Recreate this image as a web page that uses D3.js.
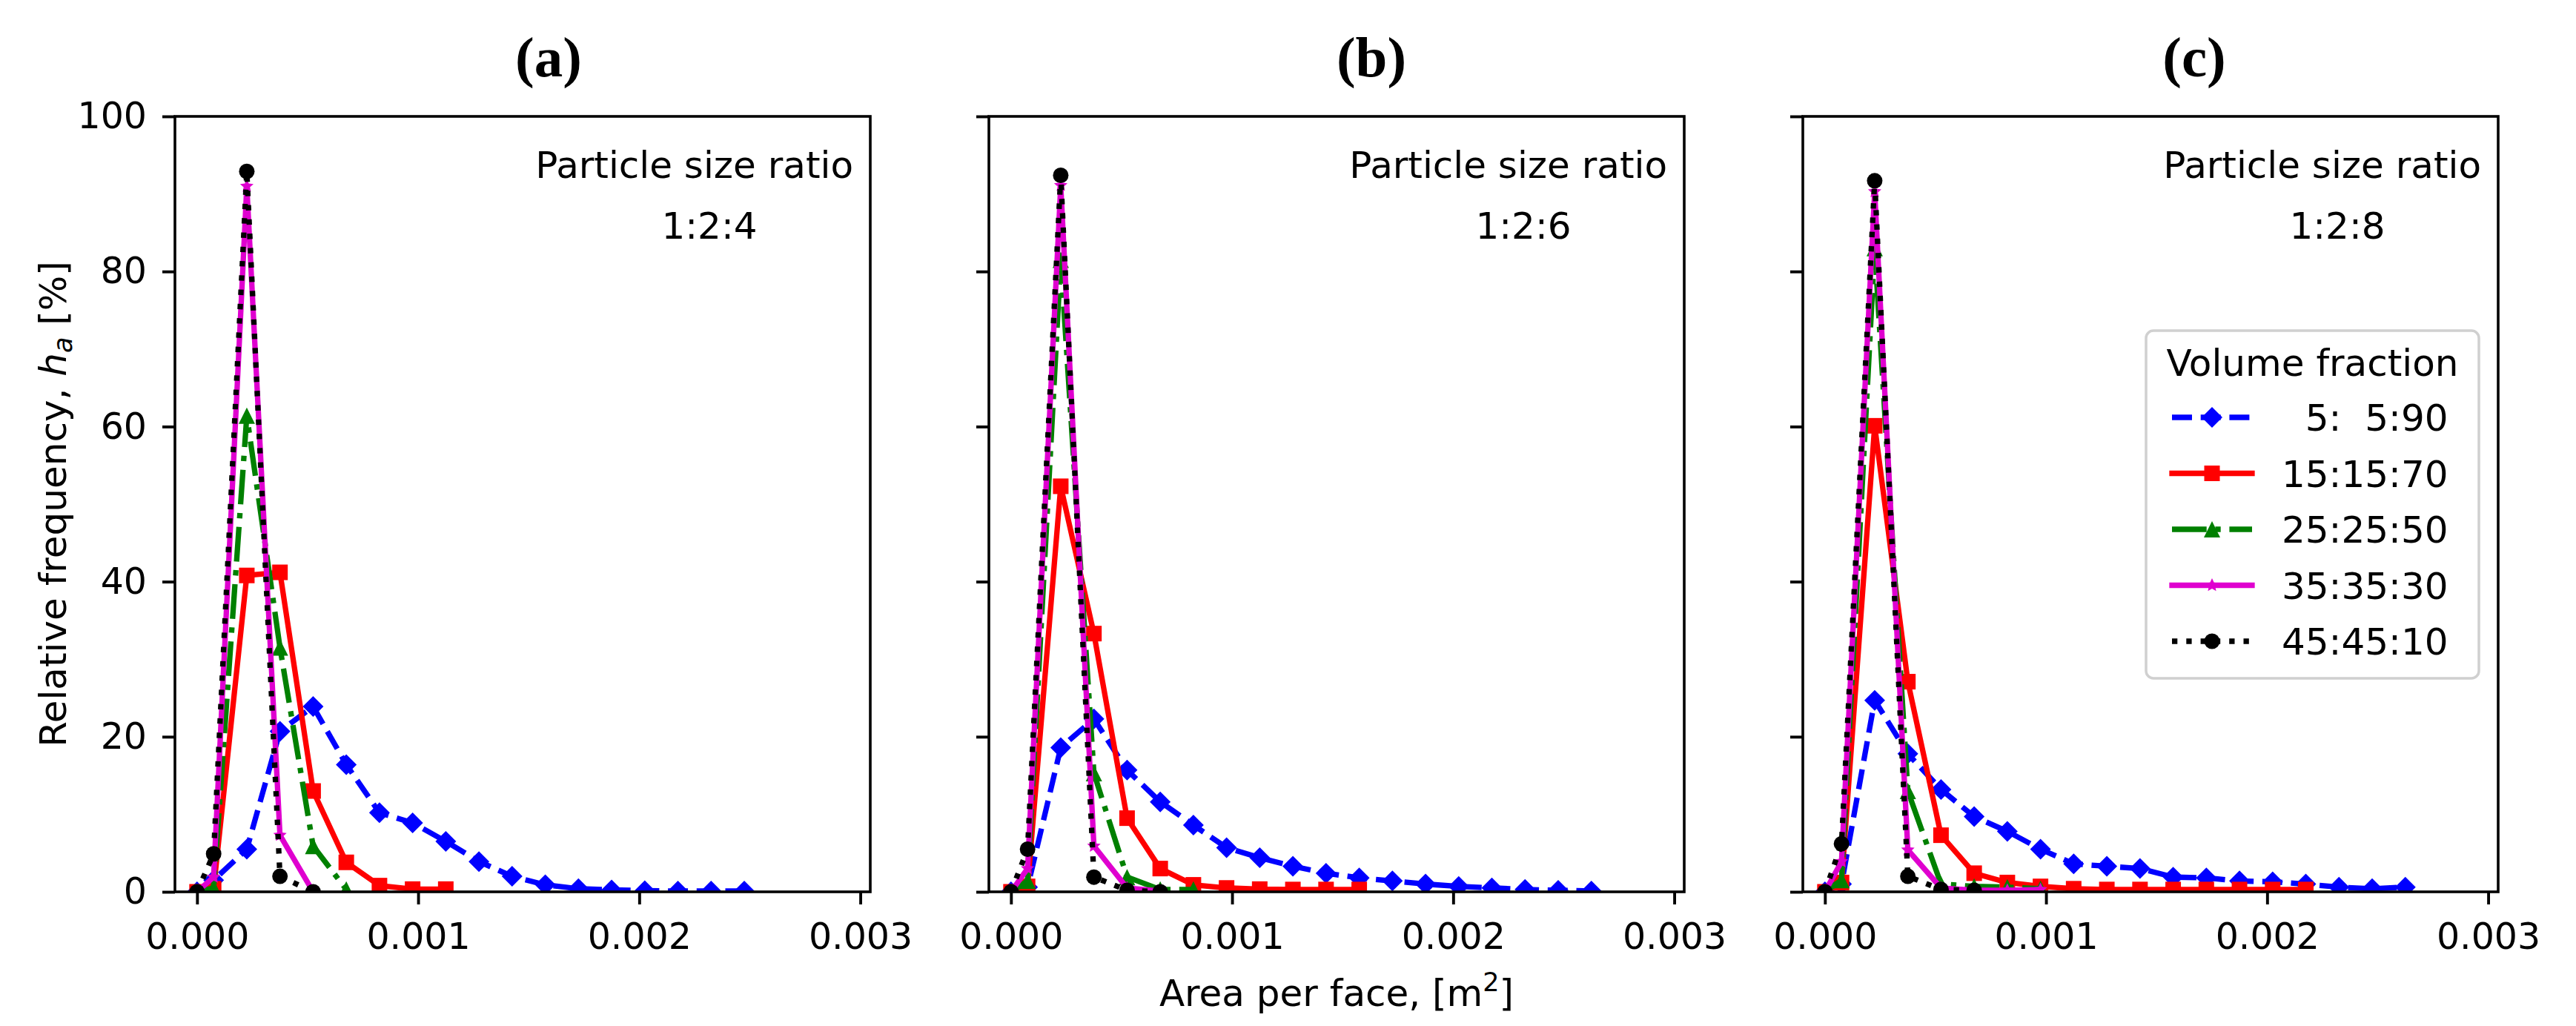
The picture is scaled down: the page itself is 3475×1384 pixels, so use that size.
<!DOCTYPE html>
<html>
<head>
<meta charset="utf-8">
<style>
  body { margin: 0; background: #fff; }
  text { font-family: "DejaVu Sans", sans-serif; }
</style>
</head>
<body>
<script src="https://d3js.org/d3.v7.min.js"></script>
<script>

// ---- data ----
var xBins = [0, 0.000075, 0.000225, 0.000375, 0.000525, 0.000675, 0.000825, 0.000975,
             0.001125, 0.001275, 0.001425, 0.001575, 0.001725, 0.001875, 0.002025,
             0.002175, 0.002325, 0.002475, 0.002625];

var seriesNames = ['  5:  5:90', '15:15:70', '25:25:50', '35:35:30', '45:45:10'];
var panelTitles = ['(a)', '(b)', '(c)'];
var sizeRatios = ['1:2:4', '1:2:6', '1:2:8'];
var xTicks = [0, 0.001, 0.002, 0.003];
var yTicks = [0, 20, 40, 60, 80, 100];

// panel (a) 1:2:4
var blueA    = [0, 1.5, 5.5, 20.7, 23.9, 16.4, 10.2, 8.9, 6.5, 3.9, 2.0, 0.9, 0.4, 0.25, 0.15, 0.1, 0.1, 0.1];
var redA     = [0, 0.4, 40.8, 41.2, 13.0, 3.8, 0.8, 0.35, 0.35];
var greenA   = [0, 0.5, 61.4, 31.5, 5.9, 0.3];
var magentaA = [0, 1.9, 91.0, 7.3, 0];
var blackA   = [0, 4.9, 92.9, 2.0, 0];

// panel (b) 1:2:6
var blueB    = [0, 0.6, 18.6, 22.3, 15.7, 11.6, 8.6, 5.7, 4.4, 3.3, 2.4, 1.8, 1.4, 1.0, 0.7, 0.5, 0.3, 0.2, 0.1];
var redB     = [0, 0.7, 52.3, 33.3, 9.5, 3.0, 0.9, 0.5, 0.35, 0.3, 0.3, 0.3];
var greenB   = [0, 1.4, 81.5, 15.3, 1.9, 0.3, 0.3];
var magentaB = [0, 3.0, 91.1, 5.9, 0.5, 0.1];
var blackB   = [0, 5.5, 92.4, 1.9, 0.2, 0];

// panel (c) 1:2:8
var blueC    = [0, 1.0, 24.7, 17.8, 13.2, 9.7, 7.8, 5.5, 3.6, 3.3, 3.0, 1.9, 1.8, 1.4, 1.3, 1.0, 0.6, 0.4, 0.6];
var redC     = [0, 1.2, 60.1, 27.1, 7.3, 2.4, 1.2, 0.7, 0.4, 0.3, 0.3, 0.3, 0.3, 0.3, 0.3, 0.3];
var greenC   = [0, 1.5, 83.0, 13.0, 1.0, 0.7, 0.6, 0.4];
var magentaC = [0, 3.9, 90.3, 5.4, 0.5, 0.2, 0.2, 0.3];
var blackC   = [0, 6.2, 91.7, 2.0, 0.3, 0.2];

var panels = [
  [blueA, redA, greenA, magentaA, blackA],
  [blueB, redB, greenB, magentaB, blackB],
  [blueC, redC, greenC, magentaC, blackC]
];

// ---- styles / layout ----
var lw = 7.3;
var colors = ['#0000ff', '#ff0000', '#008000', '#df00cf', '#000000'];
var dashes = [[27, 11.7], null, [46.7, 11.7, 7.3, 11.7], null, [7.3, 12]];
var markers = ['diamond', 'square', 'triangle', 'star', 'circle'];

var W = 3475, H = 1384;
var panelLeft = [236, 1334, 2432];
var panelW = 938, plotTop = 157, plotH = 1203 - 157;
var titleX = [740, 1850, 2960];

function markerPath(kind) {
  if (kind === 'diamond') return 'M0,-14L14,0L0,14L-14,0Z';
  if (kind === 'square') return 'M-10.5,-10.5h21v21h-21Z';
  if (kind === 'triangle') return 'M0,-11L11,11L-11,11Z';
  if (kind === 'circle') return 'M10.5,0A10.5,10.5 0 1,1 -10.5,0A10.5,10.5 0 1,1 10.5,0Z';
  // small star
  var pts = [];
  for (var i = 0; i < 10; i++) {
    var r = i % 2 === 0 ? 9.5 : 4.5;
    var a = -Math.PI / 2 + i * Math.PI / 5;
    pts.push([r * Math.cos(a), r * Math.sin(a)]);
  }
  return 'M' + pts.map(p => p[0].toFixed(2) + ',' + p[1].toFixed(2)).join('L') + 'Z';
}

const svg = d3.select('body').append('svg')
  .attr('width', W)
  .attr('height', H);

svg.append('rect').attr('width', W).attr('height', H).attr('fill', '#fff');

var defs = svg.append('defs');

panels.forEach(function(seriesSet, p) {
  var x = d3.scaleLinear().domain([-0.0001, 0.003045]).range([0, panelW]);
  var y = d3.scaleLinear().domain([0, 100]).range([plotH, 0]);

  var g = svg.append('g').attr('transform', 'translate(' + panelLeft[p] + ',' + plotTop + ')');

  defs.append('clipPath').attr('id', 'clip' + p)
    .append('rect').attr('width', panelW).attr('height', plotH);

  var plot = g.append('g').attr('clip-path', 'url(#clip' + p + ')');

  var line = d3.line()
    .x(d => x(d[0]))
    .y(d => y(d[1]));

  seriesSet.forEach(function(vals, s) {
    var pts = vals.map((v, i) => [xBins[i], v]);
    plot.append('path')
      .attr('d', line(pts))
      .attr('fill', 'none')
      .attr('stroke', colors[s])
      .attr('stroke-width', lw)
      .attr('stroke-linejoin', 'round')
      .attr('stroke-linecap', dashes[s] ? 'butt' : 'square')
      .attr('stroke-dasharray', dashes[s] ? dashes[s].join(',') : null);
    plot.append('g')
      .selectAll('path')
      .data(pts)
      .join('path')
        .attr('transform', d => 'translate(' + x(d[0]) + ',' + y(d[1]) + ')')
        .attr('d', markerPath(markers[s]))
        .attr('fill', colors[s]);
  });

  // axes
  var xAxis = g.append('g')
    .attr('transform', 'translate(0,' + plotH + ')')
    .call(d3.axisBottom(x).tickValues(xTicks).tickFormat(d3.format('.3f'))
      .tickSize(17).tickPadding(25));
  var yAxis = g.append('g')
    .call(d3.axisLeft(y).tickValues(yTicks)
      .tickFormat(p === 0 ? d3.format('d') : '')
      .tickSize(17).tickPadding(21));

  [xAxis, yAxis].forEach(function(ax) {
    ax.attr('font-size', 49).attr('font-family', '"DejaVu Sans", sans-serif');
    ax.select('.domain').remove();
    ax.selectAll('.tick line').attr('stroke', '#000').attr('stroke-width', 3.9);
    ax.selectAll('.tick text').attr('fill', '#000');
  });

  // spines
  g.append('rect')
    .attr('width', panelW).attr('height', plotH)
    .attr('fill', 'none').attr('stroke', '#000').attr('stroke-width', 3.6);

  // annotations
  g.append('text')
    .attr('x', panelW - 23).attr('y', 240 - plotTop)
    .attr('text-anchor', 'end').attr('font-size', 50)
    .text('Particle size ratio');
  g.append('text')
    .attr('x', panelW - 217).attr('y', 322 - plotTop)
    .attr('text-anchor', 'middle').attr('font-size', 50)
    .text(sizeRatios[p]);

  // panel title
  svg.append('text')
    .attr('x', titleX[p]).attr('y', 103)
    .attr('text-anchor', 'middle')
    .style('font-family', '"Liberation Serif", "DejaVu Serif", serif')
    .attr('font-weight', 'bold').attr('font-size', 77)
    .text(panelTitles[p]);

  // legend in last panel
  if (p === 2) {
    var lg = svg.append('g');
    lg.append('rect')
      .attr('x', 2895).attr('y', 446).attr('width', 449).attr('height', 469)
      .attr('rx', 10).attr('ry', 10)
      .attr('fill', 'rgba(255,255,255,0.8)')
      .attr('stroke', '#d0d0d0').attr('stroke-width', 3.5);
    lg.append('text')
      .attr('x', 3119.5).attr('y', 507)
      .attr('text-anchor', 'middle').attr('font-size', 50)
      .text('Volume fraction');
    seriesNames.forEach(function(name, s) {
      var ry = 563 + s * 75.5;
      lg.append('line')
        .attr('x1', 2930).attr('x2', 3038).attr('y1', ry).attr('y2', ry)
        .attr('stroke', colors[s]).attr('stroke-width', lw)
        .attr('stroke-linecap', dashes[s] ? 'butt' : 'square')
        .attr('stroke-dasharray', dashes[s] ? dashes[s].join(',') : null);
      lg.append('path')
        .attr('transform', 'translate(2984,' + ry + ')')
        .attr('d', markerPath(markers[s]))
        .attr('fill', colors[s]);
      lg.append('text')
        .attr('x', 3078).attr('y', ry + 18)
        .attr('font-size', 50)
        .attr('xml:space', 'preserve')
        .style('white-space', 'pre')
        .text(name);
    });
  }
});

// axis labels
var yl = svg.append('text')
  .attr('transform', 'translate(89,680) rotate(-90)')
  .attr('text-anchor', 'middle').attr('font-size', 50);
yl.append('tspan').text('Relative frequency, ');
yl.append('tspan').attr('font-style', 'italic').text('h');
yl.append('tspan').attr('font-style', 'italic').attr('font-size', 35).attr('dy', 8).text('a');
yl.append('tspan').attr('dy', -8).text(' [%]');

var xl = svg.append('text')
  .attr('x', 1803).attr('y', 1357)
  .attr('text-anchor', 'middle').attr('font-size', 50);
xl.append('tspan').text('Area per face, [m');
xl.append('tspan').attr('font-size', 35).attr('dy', -20).text('2');
xl.append('tspan').attr('dy', 20).text(']');

</script>
</body>
</html>
